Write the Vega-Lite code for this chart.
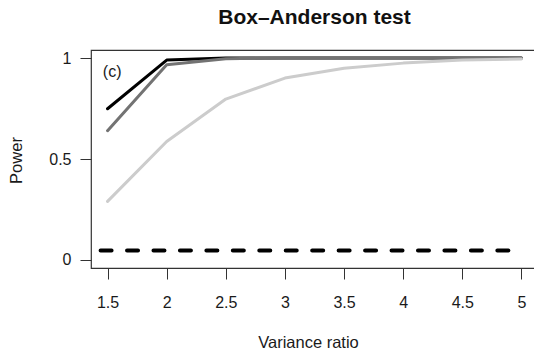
{
  "$schema": "https://vega.github.io/schema/vega-lite/v6.json",
  "autosize": "none",
  "width": 447,
  "height": 218,
  "padding": {"left": 91, "top": 50, "right": 0, "bottom": 90},
  "background": "white",
  "config": {
    "font": "Liberation Sans",
    "view": {"stroke": "#333333", "strokeWidth": 1.2},
    "axis": {
      "domain": false,
      "grid": false,
      "tickColor": "#333333",
      "tickSize": 11,
      "labelFont": "Liberation Sans",
      "labelFontSize": 16,
      "labelColor": "#1a1a1a",
      "titleFont": "Liberation Sans",
      "titleFontSize": 16.5,
      "titleFontWeight": "normal",
      "titleColor": "#1a1a1a"
    }
  },
  "title": {
    "text": "Box–Anderson test",
    "font": "Liberation Sans",
    "fontSize": 21,
    "fontWeight": "bold",
    "color": "#111111",
    "anchor": "middle",
    "offset": 22
  },
  "datasets": {
    "curves": [
      {"ratio": 1.5, "power": 0.749, "series": "a"},
      {"ratio": 2.0, "power": 0.99, "series": "a"},
      {"ratio": 2.5, "power": 1.0, "series": "a"},
      {"ratio": 3.0, "power": 1.0, "series": "a"},
      {"ratio": 3.5, "power": 1.0, "series": "a"},
      {"ratio": 4.0, "power": 1.0, "series": "a"},
      {"ratio": 4.5, "power": 1.0, "series": "a"},
      {"ratio": 5.0, "power": 1.0, "series": "a"},
      {"ratio": 1.5, "power": 0.64, "series": "b"},
      {"ratio": 2.0, "power": 0.967, "series": "b"},
      {"ratio": 2.5, "power": 0.997, "series": "b"},
      {"ratio": 3.0, "power": 1.0, "series": "b"},
      {"ratio": 3.5, "power": 1.0, "series": "b"},
      {"ratio": 4.0, "power": 1.0, "series": "b"},
      {"ratio": 4.5, "power": 1.0, "series": "b"},
      {"ratio": 5.0, "power": 1.0, "series": "b"},
      {"ratio": 1.5, "power": 0.29, "series": "c"},
      {"ratio": 2.0, "power": 0.587, "series": "c"},
      {"ratio": 2.5, "power": 0.797, "series": "c"},
      {"ratio": 3.0, "power": 0.901, "series": "c"},
      {"ratio": 3.5, "power": 0.95, "series": "c"},
      {"ratio": 4.0, "power": 0.975, "series": "c"},
      {"ratio": 4.5, "power": 0.99, "series": "c"},
      {"ratio": 5.0, "power": 0.995, "series": "c"}
    ],
    "alpha": [
      {"ratio": 1.441, "power": 0.047},
      {"ratio": 5.0, "power": 0.047}
    ],
    "panel": [
      {"ratio": 1.539, "power": 0.932, "label": "(c)"}
    ]
  },
  "layer": [
    {
      "data": {"name": "curves"},
      "mark": {"type": "line", "strokeWidth": 3, "strokeCap": "round", "strokeJoin": "round"},
      "encoding": {
        "x": {
          "field": "ratio",
          "type": "quantitative",
          "scale": {"domain": [1.36, 5.14], "nice": false, "zero": false},
          "axis": {"values": [1.5, 2, 2.5, 3, 3.5, 4, 4.5, 5], "format": "~g", "title": "Variance ratio", "labelPadding": 15, "titlePadding": 24, "titleX": 217, "labelFlush": false}
        },
        "y": {
          "field": "power",
          "type": "quantitative",
          "scale": {"domain": [-0.04, 1.04], "nice": false, "zero": false},
          "axis": {"values": [0, 0.5, 1], "format": "~g", "title": "Power", "labelPadding": 9, "titleX": -75, "titleY": 110, "titleAngle": -90, "titleBaseline": "middle", "labelFlush": false}
        },
        "color": {
          "field": "series",
          "type": "nominal",
          "scale": {"domain": ["a", "b", "c"], "range": ["#000000", "#737373", "#cccccc"]},
          "legend": null
        },
        "order": {"field": "ratio", "type": "quantitative"}
      }
    },
    {
      "data": {"name": "alpha"},
      "mark": {"type": "line", "color": "#000000", "strokeWidth": 4, "strokeCap": "round", "strokeDash": [11, 15.45]},
      "encoding": {
        "x": {"field": "ratio", "type": "quantitative"},
        "y": {"field": "power", "type": "quantitative"}
      }
    },
    {
      "data": {"name": "panel"},
      "mark": {"type": "text", "font": "Liberation Sans", "fontSize": 16, "align": "center", "baseline": "middle", "color": "#1a1a1a"},
      "encoding": {
        "x": {"field": "ratio", "type": "quantitative"},
        "y": {"field": "power", "type": "quantitative"},
        "text": {"field": "label"}
      }
    }
  ]
}
